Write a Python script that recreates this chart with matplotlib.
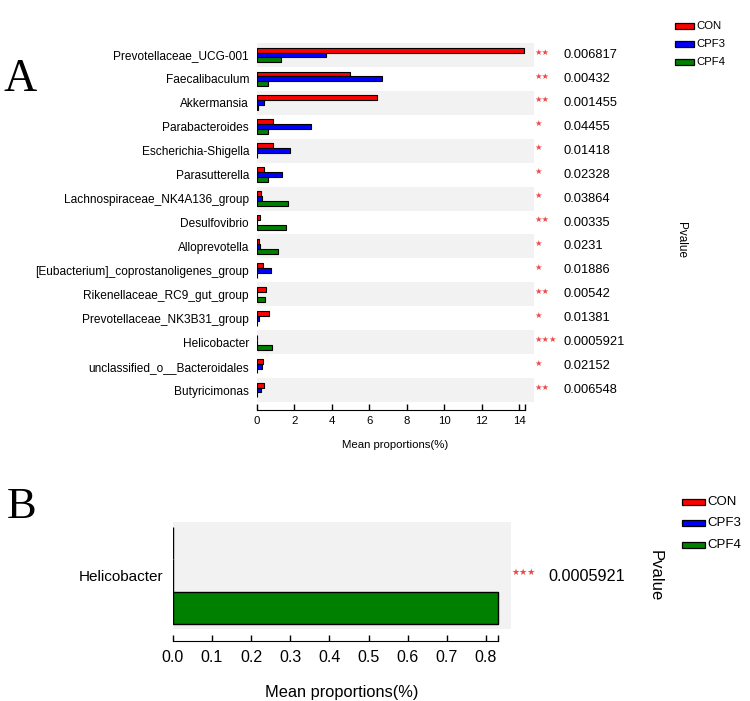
import matplotlib
matplotlib.use("Agg")
import matplotlib.pyplot as plt
import numpy as np
from matplotlib.patches import Rectangle
from matplotlib.transforms import blended_transform_factory

plt.rcParams['font.family'] = ['Liberation Sans', 'DejaVu Sans']

# ---------------- data ----------------
taxa = ["Prevotellaceae_UCG-001", "Faecalibaculum", "Akkermansia", "Parabacteroides",
        "Escherichia-Shigella", "Parasutterella", "Lachnospiraceae_NK4A136_group",
        "Desulfovibrio", "Alloprevotella", "[Eubacterium]_coprostanoligenes_group",
        "Rikenellaceae_RC9_gut_group", "Prevotellaceae_NK3B31_group", "Helicobacter",
        "unclassified_o__Bacteroidales", "Butyricimonas"]
con  = [14.25, 4.96, 6.43, 0.89, 0.87, 0.37, 0.23, 0.18, 0.14, 0.32, 0.48, 0.67, 0.0, 0.36, 0.39]
cpf3 = [3.67, 6.70, 0.39, 2.90, 1.78, 1.37, 0.30, 0.02, 0.18, 0.75, 0.02, 0.14, 0.0, 0.30, 0.25]
cpf4 = [1.28, 0.62, 0.05, 0.62, 0.02, 0.62, 1.67, 1.56, 1.15, 0.03, 0.46, 0.02, 0.83, 0.02, 0.02]
stars = ["**", "**", "**", "*", "*", "*", "*", "**", "*", "*", "**", "*", "***", "*", "**"]
pvals = ["0.006817", "0.00432", "0.001455", "0.04455", "0.01418", "0.02328", "0.03864",
         "0.00335", "0.0231", "0.01886", "0.00542", "0.01381", "0.0005921", "0.02152", "0.006548"]

taxa_b = ["Helicobacter"]
con_b = [0.0]
cpf3_b = [0.0]
cpf4_b = [0.831]
stars_b = ["***"]
pvals_b = ["0.0005921"]

groups = ["CON", "CPF3", "CPF4"]
colors = ["#ff0000", "#0000ff", "#008000"]
ticks_a = [0, 2, 4, 6, 8, 10, 12, 14]
ticks_b = [0.0, 0.1, 0.2, 0.3, 0.4, 0.5, 0.6, 0.7, 0.8]

W, H = 750, 701
fig = plt.figure(figsize=(W / 100, H / 100), dpi=100)


def rect(x0, y0, x1, y1):
    """pixel box (top-left origin) -> figure fraction [l, b, w, h]"""
    return [x0 / W, 1 - y1 / H, (x1 - x0) / W, (y1 - y0) / H]


def fx(x):
    return x / W


def fy(y):
    return 1 - y / H


STAR_COLOR = "#f04848"

# ---------------- Panel A ----------------
axA = fig.add_axes(rect(256.7, 43, 534, 402))
n = len(taxa)
ypos = np.arange(n)
xmaxA = (534 - 256.7) / 18.76
for i in range(n):
    if i % 2 == 0:
        axA.axhspan(i - 0.5, i + 0.5, color="#f2f2f2", lw=0, zorder=0)
bh = 0.205
for k, (vals, c) in enumerate(zip([con, cpf3, cpf4], colors)):
    axA.barh(ypos + (k - 1) * bh, vals, height=bh, color=c, edgecolor="black",
             linewidth=0.8, zorder=2)
axA.set_xlim(0, xmaxA)
axA.set_ylim(n - 0.5, -0.5)
axA.set_yticks(ypos)
axA.set_yticklabels(taxa, fontsize=8.6)
axA.tick_params(axis="y", length=0, pad=5.5)
for s in ["top", "right", "left"]:
    axA.spines[s].set_visible(False)
axA.spines["bottom"].set_position(("outward", 5.8))
axA.spines["bottom"].set_bounds(0, 14.3)
axA.spines["bottom"].set_linewidth(0.8)
axA.set_xticks(ticks_a)
axA.set_xticks([14.3], minor=True)
axA.tick_params(axis="x", which="both", direction="in", length=4, width=1, labelsize=8.2, pad=4.5)
axA.set_xlabel("Mean proportions(%)", fontsize=8.2, labelpad=10)
trA = blended_transform_factory(axA.transAxes, axA.transData)
for i in range(n):
    axA.text(1.003, i - 0.12, "★" * len(stars[i]), transform=trA, color=STAR_COLOR,
             fontsize=6, ha="left", va="center", family="DejaVu Sans", clip_on=False)
    axA.text(1.108, i, pvals[i], transform=trA, fontsize=9.3, ha="left", va="center",
             clip_on=False)
fig.text(fx(681), fy(240), "Pvalue", rotation=-90, fontsize=8.5, ha="center", va="center")

# legend A
for k, (g, c) in enumerate(zip(groups, colors)):
    yc = 25.7 + k * 18.3
    fig.patches.append(Rectangle((fx(675), fy(yc + 3)), (694 - 675) / W, 6 / H,
                                 transform=fig.transFigure, facecolor=c, edgecolor="black",
                                 linewidth=0.9))
    fig.text(fx(696.5), fy(yc), g, fontsize=8.2, ha="left", va="center")

fig.text(fx(20), fy(80), "A", fontsize=33, family="Liberation Serif", ha="center", va="center")

# ---------------- Panel B ----------------
axB = fig.add_axes(rect(172.7, 522, 510.7, 629))
xmaxB = (510.7 - 172.7) / 391.6
axB.axhspan(-0.5, 0.5, color="#f2f2f2", lw=0, zorder=0)
bhb = 0.3
yb = np.arange(len(taxa_b))
for k, (vals, c) in enumerate(zip([con_b, cpf3_b, cpf4_b], colors)):
    axB.barh(yb + (k - 1) * bhb, vals, height=bhb, color=c, edgecolor="black",
             linewidth=1.0, zorder=2)
axB.set_xlim(0, xmaxB)
axB.set_ylim(0.5, -0.5)
axB.set_yticks(yb)
axB.set_yticklabels(taxa_b, fontsize=11)
axB.tick_params(axis="y", length=0, pad=7)
for s in ["top", "right", "left"]:
    axB.spines[s].set_visible(False)
axB.spines["bottom"].set_position(("outward", 8.4))
axB.spines["bottom"].set_bounds(0, 0.831)
axB.spines["bottom"].set_linewidth(0.8)
axB.set_xticks(ticks_b)
axB.set_xticklabels(["%.1f" % t for t in ticks_b])
axB.set_xticks([0.831], minor=True)
axB.tick_params(axis="x", which="both", direction="in", length=4, width=1, labelsize=11.5, pad=7)
axB.set_xlabel("Mean proportions(%)", fontsize=11.8, labelpad=14)
trB = blended_transform_factory(axB.transAxes, axB.transData)
for i in range(len(taxa_b)):
    axB.text(1.003, i - 0.03, "★" * len(stars_b[i]), transform=trB, color=STAR_COLOR,
             fontsize=6.5, ha="left", va="center", family="DejaVu Sans", clip_on=False)
    axB.text((548 - 172.7) / (510.7 - 172.7), i + 0.01, pvals_b[i], transform=trB,
             fontsize=11.7, ha="left", va="center", clip_on=False)
fig.text(fx(655), fy(576), "Pvalue", rotation=-90, fontsize=12, ha="center", va="center")

for k, (g, c) in enumerate(zip(groups, colors)):
    yc = 502 + k * 21.3
    fig.patches.append(Rectangle((fx(681.7), fy(yc + 3)), (705 - 681.7) / W, 6 / H,
                                 transform=fig.transFigure, facecolor=c, edgecolor="black",
                                 linewidth=0.9))
    fig.text(fx(707.5), fy(yc), g, fontsize=9.5, ha="left", va="center")

fig.text(fx(22), fy(507), "B", fontsize=32, family="Liberation Serif", ha="center", va="center")

fig.savefig("out.png", dpi=100, facecolor="white")
